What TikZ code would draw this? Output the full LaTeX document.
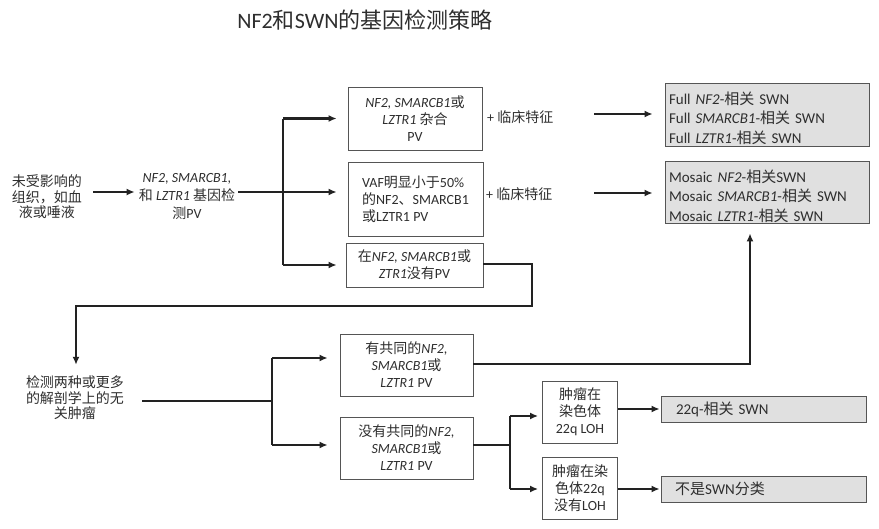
\documentclass[tikz,border=0pt]{standalone}
\usepackage{fontspec}
\setmainfont{Carlito}
\newfontfamily\cjk{Noto Sans CJK SC}
\usetikzlibrary{arrows.meta}
\newcommand\zh[1]{{\cjk #1}}
\newcommand\fs{\fontsize{14}{17}\selectfont}
\newcommand\fsl{\fontsize{14}{15.5}\selectfont}
\newcommand\fsr{\fontsize{15}{19.5}\selectfont}
\definecolor{txt}{HTML}{2E2E2E}
\definecolor{bd}{HTML}{555555}
\definecolor{fillg}{HTML}{E0E0E0}
\definecolor{ln}{HTML}{222222}
\tikzset{
  box/.style={draw=bd, line width=0.8pt, fill=white, inner sep=0pt, align=center, font=\fs, text=txt},
  res/.style={draw=bd, line width=0.8pt, fill=fillg, inner ysep=0pt, align=left, font=\fsr, text=txt},
  plain/.style={inner sep=2pt, align=center, text=txt},
  conn/.style={line width=2.5pt, draw=ln},
  arr/.style={conn, -{Latex[length=8pt,width=7pt]}},
}
\begin{document}
\begin{tikzpicture}[x=1pt,y=-1pt]
\useasboundingbox (0,0) rectangle (879,528);
% title
\node[plain, font=\fontsize{22}{24}\selectfont] (title) at (365,20) {NF2\zh{和}SWN\zh{的基因检测策略}};
% left texts
\node[plain, font=\fsl] (t0) at (47,197) {\zh{未受影响的}\\\zh{组织，如血}\\\zh{液或唾液}};
\node[plain, font=\fontsize{14}{18}\selectfont] (t1) at (187,196) {\textit{NF2, SMARCB1,}\\\zh{和} \textit{LZTR1} \zh{基因检}\\\zh{测}PV};
% first column of boxes
\node[box, minimum width=134, minimum height=63] (a1) at (415,118.5) {\textit{NF2, SMARCB1}\zh{或}\\\textit{LZTR1} \zh{杂合}\\PV};
\node[box, align=left, minimum width=135, minimum height=74] (a2) at (415.5,199) {VAF\zh{明显小于}50\%\\\zh{的}NF2\zh{、}SMARCB1\\\zh{或}LZTR1 PV};
\node[box, minimum width=137, minimum height=44] (a3) at (414.5,265) {\zh{在}\textit{NF2, SMARCB1}\zh{或}\\\textit{ZTR1}\zh{没有}PV};
\node[plain, font=\fs, anchor=west] (p1) at (485,117) {+ \zh{临床特征}};
\node[plain, font=\fs, anchor=west] (p2) at (484,194) {+ \zh{临床特征}};
% result boxes
\node[res, text width=196, inner xsep=4pt, minimum height=63] (r1) at (767,114.5) {\rule{0pt}{20pt}Full \textit{NF2}-\zh{相关} SWN\\Full \textit{SMARCB1}-\zh{相关} SWN\\Full \textit{LZTR1}-\zh{相关} SWN};
\node[res, text width=196, inner xsep=4pt, minimum height=62] (r2) at (767,192) {\rule{0pt}{21pt}Mosaic \textit{NF2}-\zh{相关}SWN\\Mosaic \textit{SMARCB1}-\zh{相关} SWN\\Mosaic \textit{LZTR1}-\zh{相关} SWN};
% second part
\node[plain, font=\fsl] (t2) at (75,398) {\zh{检测两种或更多}\\\zh{的解剖学上的无}\\\zh{关肿瘤}};
\node[box, minimum width=133, minimum height=62] (b1) at (406.5,365) {\zh{有共同的}\textit{NF2,}\\\textit{SMARCB1}\zh{或}\\\textit{LZTR1} PV};
\node[box, minimum width=133, minimum height=62] (b2) at (406.5,448) {\zh{没有共同的}\textit{NF2,}\\\textit{SMARCB1}\zh{或}\\\textit{LZTR1} PV};
\node[box, minimum width=75, minimum height=62] (c1) at (580,412) {\zh{肿瘤在}\\\zh{染色体}\\22q LOH};
\node[box, minimum width=75, minimum height=62] (c2) at (580,488) {\zh{肿瘤在染}\\\zh{色体}22q\\\zh{没有}LOH};
\node[res, text width=189, inner xsep=8pt, minimum height=26] (d1) at (763.5,409) {\hspace*{7pt}22q-\zh{相关} SWN};
\node[res, text width=189, inner xsep=8pt, minimum height=26] (d2) at (763.5,489) {\hspace*{6pt}\zh{不是}SWN\zh{分类}};
% connectors, first part
\coordinate (j1) at (283,192);
\draw[arr] ([xshift=9pt]t0.east |- j1) -- ([xshift=-2pt]t1.west |- j1);
\draw[conn] ([xshift=1pt]t1.east |- j1) -- (j1);
\draw[conn] (j1 |- a1) -- (j1 |- a3);
\draw[arr] (j1 |- a1) -- ([xshift=-11pt]a1.west);
\draw[arr] (j1) -- ([xshift=-11pt]a2.west |- j1);
\draw[arr] (j1 |- a3) -- ([xshift=-9pt]a3.west);
\coordinate (s1) at (594,114);
\coordinate (s2) at (594,193);
\draw[arr] (s1) -- ([xshift=-12pt]r1.west |- s1);
\draw[arr] (s2) -- ([xshift=-12pt]r2.west |- s2);
% loop from a3 down to t2
\coordinate (k1) at (532,264);
\coordinate (k2) at (76,306);
\draw[arr] (a3.east |- k1) -- (k1) |- (k2) -- ([yshift=9pt]t2.north -| k2);
% second part
\coordinate (j2) at (272,401);
\coordinate (j2a) at (272,358);
\coordinate (j2b) at (272,445);
\draw[conn] ([xshift=16pt]t2.east |- j2) -- (j2);
\draw[conn] (j2a) -- (j2b);
\draw[arr] (j2a) -- ([xshift=-12pt]b1.west |- j2a);
\draw[arr] (j2b) -- ([xshift=-12pt]b2.west |- j2b);
\coordinate (k3) at (750,364);
\draw[arr] (b1.east |- k3) -- (k3) -- ([yshift=-10pt]r2.south -| k3);
\coordinate (j3) at (510,445);
\coordinate (j3a) at (510,416);
\coordinate (j3b) at (510,489);
\draw[conn] (b2.east |- j3) -- (j3);
\draw[conn] (j3a) -- (j3b);
\draw[arr] (j3a) -- ([xshift=-4pt]c1.west |- j3a);
\draw[arr] (j3b) -- ([xshift=-4pt]c2.west |- j3b);
\draw[arr] (c1.east |- d1.west) -- ([xshift=-1pt]d1.west);
\draw[arr] (c2.east |- d2.west) -- ([xshift=-1pt]d2.west);
\end{tikzpicture}
\end{document}
